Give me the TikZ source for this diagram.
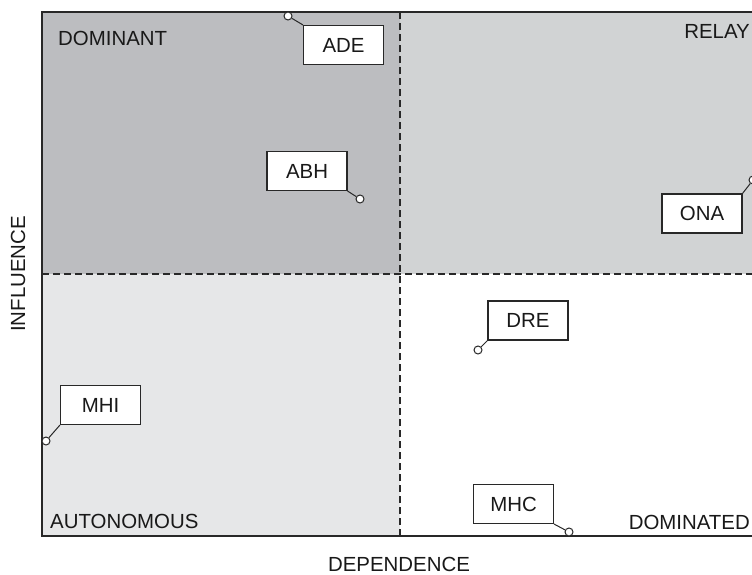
\documentclass[tikz,border=0pt]{standalone}
\usepackage{fontspec}
\setmainfont{Liberation Sans}
\usetikzlibrary{positioning, calc}
\definecolor{dominantgray}{RGB}{188,189,192}
\definecolor{relaygray}{RGB}{209,211,212}
\definecolor{autogray}{RGB}{230,231,232}
\definecolor{inkgray}{RGB}{40,40,40}
\tikzset{
    tag/.style={
        rectangle,
        draw=inkgray,
        line width=1.1bp,
        fill=white,
        minimum width=80bp,
        minimum height=39bp,
        inner sep=0pt,
        text=black!90,
        font=\fontsize{20.5}{24}\selectfont
    },
    pinpoint/.style={
        circle,
        draw=inkgray,
        line width=1bp,
        fill=white,
        minimum size=8bp,
        inner sep=0pt
    },
    lead/.style={
        draw=inkgray,
        line width=1bp
    },
    divider/.style={
        draw=inkgray,
        line width=1.2bp,
        dash pattern=on 7bp off 4bp
    },
    caption/.style={
        inner sep=0pt,
        text=black!90,
        font=\fontsize{20.5}{24}\selectfont
    },
}
\begin{document}
\begin{tikzpicture}[x=1bp, y=-1bp]

\fill[white] (0,0) rectangle (752,575);
\useasboundingbox (0,0) rectangle (752,575);
\clip (0,0) rectangle (752,575);

% Quadrants
\fill[dominantgray] (42,12) rectangle (400,274);
\fill[relaygray] (400,12) rectangle (800,274);
\fill[autogray] (42,274) rectangle (400,536);

% Frame and dividers
\draw[inkgray, line width=1.6bp] (800,12) -- (42,12) -- (42,536) -- (800,536);
\draw[divider] (400,12) -- (400,536);
\draw[divider] (42,274) -- (800,274);

% Quadrant names
\node[caption, anchor=west] (dominant) at (58,38) {DOMINANT};
\node[caption, anchor=east] (relay) at (750,31) {RELAY};
\node[caption, anchor=west] (autonomous) at (50,521) {AUTONOMOUS};
\node[caption, anchor=east] (dominated) at (750,522) {DOMINATED};

% Axis titles
\node[caption, rotate=90] (influence) at (18,274) {INFLUENCE};
\node[caption] (dependence) at (399,564) {DEPENDENCE};

% ADE
\node[tag] (ADE) at (343.5,45) {ADE};
\node[pinpoint] (ADEpt) at (288,16) {};
\draw[lead] (ADEpt) -- (ADE.north west);

% ABH
\node[tag] (ABH) at (307,171) {ABH};
\node[pinpoint] (ABHpt) at (360,199) {};
\draw[lead] (ABH.south east) -- (ABHpt);

% ONA
\node[tag] (ONA) at (702,213.5) {ONA};
\node[pinpoint] (ONApt) at (753,180) {};
\draw[lead] (ONA.north east) -- (ONApt);

% MHI
\node[tag] (MHI) at (100.5,405) {MHI};
\node[pinpoint] (MHIpt) at (46,441) {};
\draw[lead] (MHI.south west) -- (MHIpt);

% DRE
\node[tag] (DRE) at (528,320.5) {DRE};
\node[pinpoint] (DREpt) at (478,350) {};
\draw[lead] (DRE.south west) -- (DREpt);

% MHC
\node[tag] (MHC) at (513.5,504) {MHC};
\node[pinpoint] (MHCpt) at (569,532) {};
\draw[lead] (MHC.south east) -- (MHCpt);

\end{tikzpicture}
\end{document}
